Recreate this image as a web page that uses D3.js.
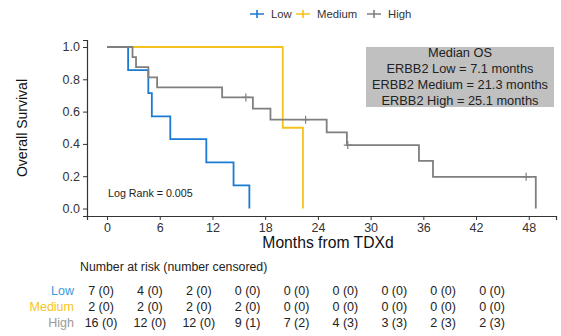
<!DOCTYPE html>
<html><head><meta charset="utf-8">
<script src="https://cdn.jsdelivr.net/npm/d3@7"></script>
<style>body{margin:0;background:#fff}text{font-family:"Liberation Sans",Arial,sans-serif}</style>
</head><body><svg id="c" width="561" height="336"></svg>
<script>
const groups = ["Low", "Medium", "High"];
const colors = {Low: "#1b7ad2", Medium: "#f5c21b", High: "#7f7f7f"};
const labelColors = {Low: "#3d9ae0", Medium: "#f5c518", High: "#9a9a9a"};
// step curves: [time, survival]
const lowSteps = [[0,1],[2.4,0.857],[4.7,0.714],[5.1,0.571],[7.2,0.429],[11.3,0.286],[14.4,0.143],[16.2,0]];
const mediumSteps = [[0,1],[20.0,0.5],[22.3,0]];
const highSteps = [[0,1],[2.9,0.9375],[3.3,0.875],[4.7,0.8125],[5.7,0.75],[13.1,0.6875],[16.6,0.619],[18.6,0.55],[25.0,0.471],[27.3,0.393],[35.5,0.295],[37.1,0.196],[48.8,0]];
const lowCensor = [];
const mediumCensor = [];
const highCensor = [[15.8,0.6875],[22.6,0.55],[27.4,0.393],[47.7,0.196]];
const xTicks = [0,6,12,18,24,30,36,42,48];
const yTicks = [0,0.2,0.4,0.6,0.8,1.0];
const medianLines = ["Median OS","ERBB2 Low = 7.1 months","ERBB2 Medium = 21.3 months","ERBB2 High = 25.1 months"];
const riskLow = ["7 (0)","4 (0)","2 (0)","0 (0)","0 (0)","0 (0)","0 (0)","0 (0)","0 (0)"];
const riskMedium = ["2 (0)","2 (0)","2 (0)","2 (0)","0 (0)","0 (0)","0 (0)","0 (0)","0 (0)"];
const riskHigh = ["16 (0)","12 (0)","12 (0)","9 (1)","7 (2)","4 (3)","3 (3)","2 (3)","2 (3)"];

const steps = {Low: lowSteps, Medium: mediumSteps, High: highSteps};
const censors = {Low: lowCensor, Medium: mediumCensor, High: highCensor};
const risk = {Low: riskLow, Medium: riskMedium, High: riskHigh};

const svg = d3.select("#c");
const x = d3.scaleLinear().domain([-2.28, 51.1]).range([87, 556]);
const y = d3.scaleLinear().domain([-0.0464, 1.0433]).range([216, 40]);

// axes
const xAxis = svg.append("g").attr("transform","translate(0,216)")
  .call(d3.axisBottom(x).tickValues(xTicks).tickSize(4).tickPadding(3).tickFormat(d3.format("d")));
const yAxis = svg.append("g").attr("transform","translate(87,0)")
  .call(d3.axisLeft(y).tickValues(yTicks).tickSize(4).tickPadding(3).tickFormat(d3.format(".1f")));
[xAxis,yAxis].forEach(a=>{
  a.select(".domain").attr("stroke","#333").attr("stroke-width",1.2);
  a.selectAll(".tick line").attr("stroke","#333");
  a.selectAll(".tick text").attr("fill","#333").style("font-size","12.5px").style("font-family","'Liberation Sans',Arial,sans-serif");
});

svg.append("text").attr("x",328).attr("y",248).attr("text-anchor","middle")
  .style("font-size","15.7px").attr("fill","#111").text("Months from TDXd");
svg.append("text").attr("transform","translate(27,128) rotate(-90)").attr("text-anchor","middle")
  .style("font-size","14px").attr("fill","#111").text("Overall Survival");

// curves
const line = d3.line().x(d=>x(d[0])).y(d=>y(d[1])).curve(d3.curveStepAfter);
groups.forEach(g=>{
  svg.append("path").datum(steps[g]).attr("d",line).attr("fill","none")
    .attr("stroke",colors[g]).attr("stroke-width",1.8);
  censors[g].forEach(c=>{
    const cx=x(c[0]), cy=y(c[1]);
    svg.append("path").attr("d",`M${cx-4},${cy}H${cx+4}M${cx},${cy-4}V${cy+4}`)
      .attr("stroke",colors[g]).attr("stroke-width",1.2);
  });
});

// legend
const legX = {Low:250, Medium:296, High:367};
groups.forEach(g=>{
  const lx = legX[g], ly = 14;
  svg.append("path").attr("d",`M${lx},${ly}H${lx+14}M${lx+7},${ly-4}V${ly+4}`)
    .attr("stroke",colors[g]).attr("stroke-width",1.6);
  svg.append("text").attr("x",lx+21).attr("y",ly+4).style("font-size","11.3px").attr("fill","#333").text(g);
});

// median box
svg.append("rect").attr("x",366).attr("y",47).attr("width",188).attr("height",60).attr("fill","#c0c0c0");
medianLines.forEach((t,i)=>{
  svg.append("text").attr("x",460).attr("y",57+i*16).attr("text-anchor","middle")
    .style("font-size","12.8px").attr("fill","#222").text(t);
});

svg.append("text").attr("x",108).attr("y",197).style("font-size","10.7px").attr("fill","#222").text("Log Rank = 0.005");

// risk table
svg.append("text").attr("x",80).attr("y",271).style("font-size","12.3px").attr("fill","#222").text("Number at risk (number censored)");
const col = d3.scaleLinear().domain([0,8]).range([101,492]);
const rowY = {Low:295, Medium:311, High:327};
groups.forEach(g=>{
  svg.append("text").attr("x",74).attr("y",rowY[g]).attr("text-anchor","end")
    .style("font-size","12.5px").attr("fill",labelColors[g]).text(g);
  risk[g].forEach((v,i)=>{
    svg.append("text").attr("x",col(i)).attr("y",rowY[g]).attr("text-anchor","middle")
      .style("font-size","12.5px").attr("fill","#222").text(v);
  });
});
</script></body></html>
